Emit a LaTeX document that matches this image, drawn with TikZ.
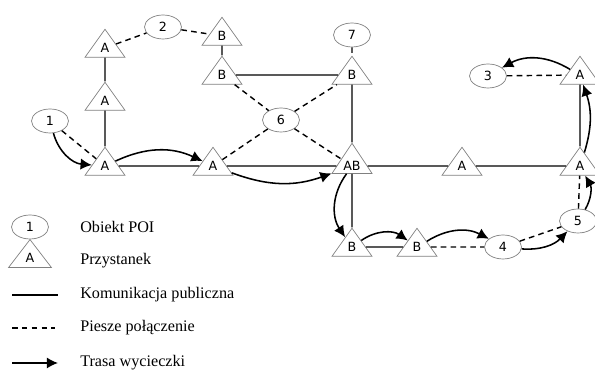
\documentclass[tikz,border=0pt]{standalone}
\usepackage{fontspec}
\setmainfont{Liberation Serif}
\newfontfamily\stopfont{DejaVu Sans}
\usetikzlibrary{shapes.geometric}
\usetikzlibrary{arrows.meta}
\usetikzlibrary{positioning}

\begin{document}
\begin{tikzpicture}
    [
    station/.style = {isosceles triangle,isosceles triangle stretches,shape border rotate=90,minimum width=1cm,minimum height=0.7cm,inner sep=0pt,draw=gray,line width=0.5pt,font=\stopfont\fontsize{9}{10}\selectfont},
    poi/.style = {ellipse,minimum width=0.925cm,minimum height=0.6cm,inner sep=0pt,draw=gray,line width=0.5pt,font=\stopfont\fontsize{9}{10}\selectfont},
    bus/.style = {line width=1pt},
    walk/.style = {line width=1pt,dash pattern=on 4pt off 3pt},
    route/.style = {line width=1.1pt,-{Latex[length=8pt,width=8pt]}},
    key/.style = {anchor=west,inner sep=0pt,font=\fontsize{11.5}{13}\selectfont}
    ]
\useasboundingbox (0,0) rectangle (14.875,9.25);
\node[station] (a1) at (2.625,5.1) {A};
\node[station] (a2) at (2.625,6.725) {A};
\node[station] (a3) at (2.625,8.05) {A};
\node[station] (b1) at (5.55,8.35) {B};
\node[station] (b2) at (5.55,7.375) {B};
\node[station] (a4) at (5.325,5.1) {A};
\node[station] (b3) at (8.8,7.375) {B};
\node[station] (ab) at (8.8,5.1) {AB};
\node[station] (a5) at (11.55,5.1) {A};
\node[station] (a6) at (14.5,5.1) {A};
\node[station] (a7) at (14.5,7.375) {A};
\node[station] (b4) at (8.8,3.075) {B};
\node[station] (b5) at (10.425,3.075) {B};

\node[poi] (p1) at (1.25,6.225) {1};
\node[poi] (p2) at (4.075,8.575) {2};
\node[poi] (p3) at (12.2,7.35) {3};
\node[poi] (p4) at (12.575,3.075) {4};
\node[poi] (p5) at (14.45,3.725) {5};
\node[poi] (p6) at (7.025,6.25) {6};
\node[poi] (p7) at (8.8,8.375) {7};

\draw[bus] (a1) -- (a2);
\draw[bus] (a2) -- (a3);
\draw[bus] (a1) -- (a4);
\draw[bus] (a4) -- (ab);
\draw[bus] (b1) -- (b2);
\draw[bus] (b2) -- (b3);
\draw[bus] (b3) -- (ab);
\draw[bus] (ab) -- (a5);
\draw[bus] (a5) -- (a6);
\draw[bus] (a6) -- (a7);
\draw[bus] (ab) -- (b4);
\draw[bus] (b4) -- (b5);

\draw[walk] (p1) -- (a1);
\draw[walk] (a3) -- (p2);
\draw[walk] (p2) -- (b1);
\draw[walk] (b2) -- (p6);
\draw[walk] (p6) -- (ab);
\draw[walk] (a4) -- (p6);
\draw[walk] (p6) -- (b3);
\draw[walk] (p7) -- (b3);
\draw[walk] (p3) -- (a7);
\draw[walk] (b5) -- (p4);
\draw[walk] (p4) -- (p5);
\draw[walk] (p5) -- (a6);

\draw[route] (p1) to[bend right=35] (a1);
\draw[route] (a1) to[bend left=25] (a4);
\draw[route] (a4) to[bend right=20] (ab);
\draw[route] (ab) to[bend right=35] (b4);
\draw[route] (b4) to[bend left=35] (b5);
\draw[route] (b5) to[bend left=30] (p4);
\draw[route] (p4) to[bend right=25] (p5);
\draw[route] (p5) to[bend right=30] (a6);
\draw[route] (a6) to[bend right=18] (a7);
\draw[route] (a7) to[bend right=30] (p3);

\node[poi] (kpoi) at (0.75,3.575) {1};
\node[station,minimum width=1.075cm] (kstop) at (0.75,2.8) {A};
\coordinate (kbus1) at (0.3,1.875);
\coordinate (kbus2) at (1.45,1.875);
\coordinate (kwalk1) at (0.3,1.05);
\coordinate (kwalk2) at (1.375,1.05);
\coordinate (kroute1) at (0.3,0.175);
\coordinate (kroute2) at (1.45,0.175);
\draw[bus] (kbus1) -- (kbus2);
\draw[walk] (kwalk1) -- (kwalk2);
\draw[route] (kroute1) -- (kroute2);
\node[key] (tpoi) at (2,3.575) {Obiekt POI};
\node[key] (tstop) at (2,2.725) {Przystanek};
\node[key] (tbus) at (2,1.875) {Komunikacja publiczna};
\node[key] (twalk) at (2,1.05) {Piesze połączenie};
\node[key] (troute) at (2,0.175) {Trasa wycieczki};
\end{tikzpicture}
\end{document}
